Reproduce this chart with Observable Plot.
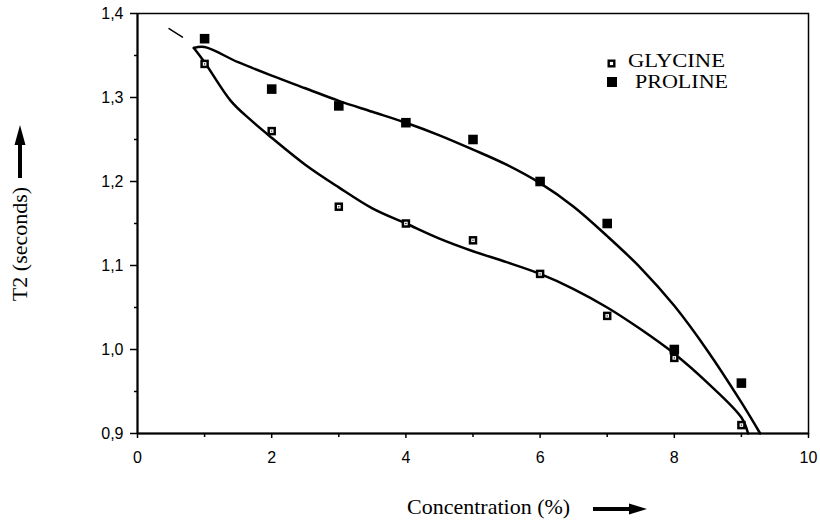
<!DOCTYPE html>
<html>
<head>
<meta charset="utf-8">
<script src="https://cdn.jsdelivr.net/npm/d3@7"></script>
<script src="https://cdn.jsdelivr.net/npm/@observablehq/plot@0.6"></script>
<style>
  html, body { margin: 0; padding: 0; background: #fff; }
  #chart svg { display: block; }
</style>
</head>
<body>
<div id="chart"></div>
<script>
// ---- data ----
const concentration = [1, 2, 3, 4, 5, 6, 7, 8, 9];
const glycineT2 = [1.34, 1.26, 1.17, 1.15, 1.13, 1.09, 1.04, 0.99, 0.91];
const prolineT2 = [1.37, 1.31, 1.29, 1.27, 1.25, 1.20, 1.15, 1.00, 0.96];

// hand-drawn fitted curves
const glycineFitX = [0.84, 1.0, 1.39, 1.69, 2.0, 2.5, 3.0, 3.5, 4.0, 4.5, 5.0, 5.5, 6.0, 6.5, 7.0, 7.5, 8.0, 8.5, 9.0, 9.1];
const glycineFitY = [1.359, 1.342, 1.296, 1.273, 1.252, 1.22, 1.193, 1.168, 1.15, 1.132, 1.117, 1.104, 1.09, 1.072, 1.05, 1.024, 0.995, 0.96, 0.919, 0.90];
const prolineFitX = [0.84, 1.0, 1.5, 2.0, 2.5, 3.0, 3.5, 4.0, 4.5, 5.0, 5.5, 6.0, 6.5, 7.0, 7.5, 8.0, 8.5, 9.0, 9.28];
const prolineFitY = [1.359, 1.36, 1.342, 1.326, 1.311, 1.296, 1.283, 1.27, 1.255, 1.238, 1.22, 1.198, 1.17, 1.135, 1.097, 1.052, 0.998, 0.937, 0.90];
// short extrapolation stroke at top-left
const stubX = [0.47, 0.67];
const stubY = [1.382, 1.372];

const xMajorTicks = [0, 2, 4, 6, 8, 10];
const xMinorTicks = [1, 3, 5, 7, 9];
const yMajorTicks = [0.9, 1.0, 1.1, 1.2, 1.3, 1.4];
const yMinorTicks = [0.95, 1.05, 1.15, 1.25, 1.35];
const seriesNames = ["GLYCINE", "PROLINE"];
const xLabel = "Concentration (%)";
const yLabel = "T2 (seconds)";

// ---- tables ----
const glycine = concentration.map((c, i) => ({c, t: glycineT2[i]}));
const proline = concentration.map((c, i) => ({c, t: prolineT2[i]}));
const glycineFit = glycineFitX.map((c, i) => ({c, t: glycineFitY[i]}));
const prolineFit = prolineFitX.map((c, i) => ({c, t: prolineFitY[i]}));
const stub = stubX.map((c, i) => ({c, t: stubY[i]}));

const fmt = d => d.toFixed(1).replace(".", ",");

const plot = Plot.plot({
  width: 820,
  height: 520,
  marginLeft: 137,
  marginRight: 12,
  marginTop: 13,
  marginBottom: 87,
  x: {domain: [0, 10]},
  y: {domain: [0.9, 1.4]},
  style: {fontFamily: "'Liberation Sans', Arial, sans-serif", fontSize: "16px", color: "black", background: "white"},
  marks: [
    Plot.frame({stroke: "black", strokeWidth: 1.5}),
    Plot.axisX({ticks: xMajorTicks, tickSize: 5, tickPadding: 13, tickFormat: d => String(d), label: null, strokeWidth: 1.5, fontSize: 16}),
    Plot.axisX({ticks: xMinorTicks, tickSize: 4, tickFormat: () => "", label: null, strokeWidth: 1.5}),
    Plot.axisY({ticks: yMajorTicks, tickSize: 7, tickPadding: 7, tickFormat: fmt, label: null, strokeWidth: 1.5, fontSize: 16}),
    Plot.axisY({ticks: yMinorTicks, tickSize: 3, tickFormat: () => "", label: null, strokeWidth: 1.5}),
    Plot.ruleX([0], {strokeWidth: 2}),
    Plot.ruleY([0.9], {strokeWidth: 2}),
    Plot.line(stub, {x: "c", y: "t", stroke: "black", strokeWidth: 1.5}),
    Plot.line(glycineFit, {x: "c", y: "t", curve: "catmull-rom", stroke: "black", strokeWidth: 2.5}),
    Plot.line(prolineFit, {x: "c", y: "t", curve: "catmull-rom", stroke: "black", strokeWidth: 2.5}),
    Plot.dot(proline, {x: "c", y: "t", symbol: "square", r: 5.4, fill: "black", stroke: "none"}),
    Plot.dot(glycine, {x: "c", y: "t", symbol: "square", r: 4.8, fill: "black", stroke: "none"}),
    Plot.dot(glycine, {x: "c", y: "t", symbol: "square", r: 2.0, fill: "white", stroke: "none"}),
    Plot.dot(glycine, {x: "c", y: "t", r: 0.7, fill: "black", stroke: "none"})
  ]
});

document.getElementById("chart").append(plot);

// ---- annotations: legend, axis titles with arrows ----
const svg = d3.select(plot);
const serif = "'Liberation Serif', 'Times New Roman', serif";
const ann = svg.append("g")
  .attr("font-family", serif)
  .attr("font-size", 22)
  .attr("fill", "black")
  .attr("text-anchor", "start");

// legend
const legendRows = [
  {name: seriesNames[0], mx: 611.5, my: 63.5, tx: 628, ty: 66.5, w: 97},
  {name: seriesNames[1], mx: 612, my: 82, tx: 635, ty: 88, w: 93}
];
// glycine marker
ann.append("rect").attr("x", legendRows[0].mx - 4).attr("y", legendRows[0].my - 4).attr("width", 8).attr("height", 8).attr("fill", "black");
ann.append("rect").attr("x", legendRows[0].mx - 1.6).attr("y", legendRows[0].my - 1.6).attr("width", 3.2).attr("height", 3.2).attr("fill", "white");
// proline marker
ann.append("rect").attr("x", legendRows[1].mx - 5).attr("y", legendRows[1].my - 5).attr("width", 10).attr("height", 10).attr("fill", "black");
ann.selectAll("text.leg").data(legendRows).join("text")
  .attr("class", "leg")
  .attr("text-anchor", "start")
  .attr("font-size", 19)
  .attr("textLength", d => d.w)
  .attr("lengthAdjust", "spacingAndGlyphs")
  .attr("x", d => d.tx).attr("y", d => d.ty)
  .text(d => d.name);

// x title + arrow
ann.append("text").attr("text-anchor", "start").attr("x", 407).attr("y", 514).text(xLabel);
ann.append("path").attr("fill", "black")
  .attr("d", "M593,507 L629,507 L629,503.5 L647,509 L629,514.5 L629,511 L593,511 Z");

// y title + arrow
ann.append("text").attr("transform", "translate(27,244) rotate(-90)").attr("text-anchor", "middle").text(yLabel);
ann.append("path").attr("fill", "black")
  .attr("d", "M18,178 L18,145 L14.5,145 L20,125 L25.5,145 L22,145 L22,178 Z");
</script>
</body>
</html>
